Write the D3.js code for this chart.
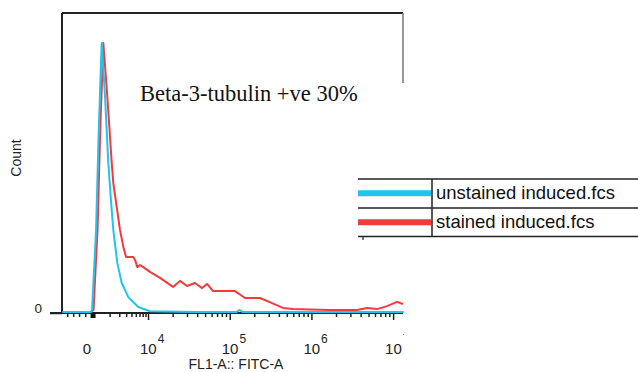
<!DOCTYPE html>
<html>
<head>
<meta charset="utf-8">
<script src="https://cdn.jsdelivr.net/npm/d3@7"></script>
<style>
  body { margin: 0; background: #fff; }
  svg { display: block; }
</style>
</head>
<body>
<svg width="638" height="372"></svg>
<script>
// x in display decades (4 = 10^4 ...), y = count (% of max)
var blueX = [2.95, 3.30, 3.315, 3.364, 3.397, 3.433, 3.474, 3.514, 3.543, 3.575, 3.624, 3.678, 3.759, 3.881, 4.024, 4.6, 5.08, 5.12, 5.16, 5.6, 6.5, 7.13];
var blueY = [0.3, 0.3, 1, 27.7, 61, 90, 72, 50, 38.7, 27.7, 16.7, 10, 5.3, 2, 0.6, 0.3, 0.3, 1, 0.3, 0.3, 0.3, 0.3];

var redX = [3.30, 3.333, 3.382, 3.415, 3.453, 3.502, 3.556, 3.575, 3.617, 3.657, 3.698, 3.731, 3.780, 3.820, 3.841, 3.869, 3.902, 3.942, 4.024, 4.147, 4.306, 4.392, 4.477, 4.575, 4.661, 4.722, 4.796, 5.065, 5.187, 5.371, 5.518, 5.652, 5.775, 6.203, 6.558, 6.681, 6.803, 6.925, 7.048, 7.121];
var redY = [0.3, 1, 27.7, 61, 90, 72, 50, 43.3, 35.3, 27.7, 22, 18.7, 18.7, 18.7, 17.7, 15.3, 16, 15.3, 13.7, 11.7, 8.7, 10.7, 9, 10, 8.3, 9.7, 7.3, 7.3, 5, 5, 3.3, 1.7, 1.3, 1, 1, 1.7, 1.3, 2.3, 3.7, 3];

var seriesNames = ["unstained induced.fcs", "stained induced.fcs"];
var seriesColors = ["#22c3ef", "#f23c3c"];
var majorTicks = [4, 5, 6, 7];
var majorExp = ["4", "5", "6", "7"];
var zeroPos = 3.327;
var annotation = "Beta-3-tubulin +ve 30%";

var svg = d3.select("svg");
var pLeft = 62, pRight = 403, pTop = 13, pBottom = 313;

var x = d3.scaleLinear().domain([2.947, 7.121]).range([pLeft, pRight]);
var y = d3.scaleLinear().domain([0, 100]).range([pBottom, pTop]);

// minor ticks
var minorTicks = [];
[4, 5, 6].forEach(function(d) {
  d3.range(2, 10).forEach(function(m) { minorTicks.push(d + Math.log10(m)); });
});
d3.range(2, 10).forEach(function(m) { minorTicks.push(zeroPos + (4 - zeroPos) * Math.log10(m)); });
[0.17, 0.36, 0.55, 0.75].forEach(function(f) { minorTicks.push(x.domain()[0] + (zeroPos - x.domain()[0]) * f); });

svg.append("defs").append("clipPath").attr("id", "clip")
  .append("rect").attr("x", pLeft).attr("y", pTop - 2).attr("width", pRight - pLeft + 1).attr("height", pBottom - pTop + 2);

// frame
svg.append("line").attr("x1", pLeft).attr("x2", pRight).attr("y1", pTop).attr("y2", pTop)
  .attr("stroke", "#222").attr("stroke-width", 2);
svg.append("line").attr("x1", pRight).attr("x2", pRight).attr("y1", pTop).attr("y2", 83)
  .attr("stroke", "#777").attr("stroke-width", 1.5);
svg.append("line").attr("x1", pLeft).attr("x2", pLeft).attr("y1", pTop).attr("y2", pBottom)
  .attr("stroke", "#222").attr("stroke-width", 2);

// x axis
var gxMinor = svg.append("g").attr("transform", "translate(0," + pBottom + ")")
  .call(d3.axisBottom(x).tickValues(minorTicks).tickSize(4).tickFormat(""));
var gxMajor = svg.append("g").attr("transform", "translate(0," + pBottom + ")")
  .call(d3.axisBottom(x).tickValues(majorTicks).tickSize(7).tickFormat(""));
svg.selectAll(".domain").remove();
[gxMinor, gxMajor].forEach(function(g) {
  g.selectAll(".tick line").attr("stroke", "#222").attr("stroke-width", 1.5);
});
gxMajor.append("line").attr("x1", 50).attr("x2", pRight).attr("stroke", "#222").attr("stroke-width", 2);
gxMajor.append("rect").attr("x", x(zeroPos) - 2.5).attr("y", 0).attr("width", 5).attr("height", 5).attr("fill", "#111");

var labels = svg.append("g").attr("font-family", "Liberation Sans, Arial, sans-serif").attr("fill", "#222");
labels.append("text").attr("x", x(zeroPos) - 6).attr("y", 354).attr("text-anchor", "middle")
  .attr("font-size", 15).text("0");
majorTicks.forEach(function(d, i) {
  var t = labels.append("text").attr("x", x(d) - 8).attr("y", 354).attr("font-size", 15);
  t.append("tspan").text("10");
  t.append("tspan").attr("dy", -11).attr("dx", 1).attr("font-size", 12).text(majorExp[i]);
});
labels.append("text").attr("x", 236).attr("y", 369).attr("text-anchor", "middle")
  .attr("font-size", 14).text("FL1-A:: FITC-A");

// y axis
var gy = svg.append("g").attr("transform", "translate(" + pLeft + ",0)");
gy.call(d3.axisLeft(y).tickValues([0]).tickSize(12).tickPadding(8).tickFormat(d3.format("d")));
gy.selectAll(".domain").remove();
gy.selectAll(".tick line").attr("stroke", "#222").attr("stroke-width", 1.5);
gy.selectAll(".tick text").attr("font-family", "Liberation Sans, Arial, sans-serif")
  .attr("font-size", 13.5).attr("fill", "#222").attr("dy", "-0.05em");
labels.append("text").attr("transform", "translate(21,158) rotate(-90)").attr("text-anchor", "middle")
  .attr("font-size", 14).text("Count");

// histograms
var line = d3.line().x(function(d) { return x(d[0]); }).y(function(d) { return y(d[1]); });
var curves = svg.append("g").attr("clip-path", "url(#clip)");
[[redX, redY, 1], [blueX, blueY, 0]].forEach(function(s) {
  curves.append("path")
    .datum(d3.zip(s[0], s[1]))
    .attr("d", line)
    .attr("fill", "none")
    .attr("stroke", seriesColors[s[2]])
    .attr("stroke-width", 2)
    .attr("stroke-linejoin", "round");
});

// white cover on the right (pasted panel)
svg.append("rect").attr("x", pRight + 1).attr("y", 83).attr("width", 638 - pRight).attr("height", 372 - 83)
  .attr("fill", "#fff");

// annotation
svg.append("text").attr("x", 140).attr("y", 101)
  .attr("font-family", "Liberation Serif, Times New Roman, serif")
  .attr("font-size", 22.5).attr("fill", "#111").text(annotation);

// legend table
var leg = svg.append("g");
var rowTop = [179, 208], rowH = 28.5;
leg.append("rect").attr("x", 358).attr("y", 179).attr("width", 280).attr("height", 58).attr("fill", "#fff");
[179, 208, 236.5].forEach(function(yy) {
  leg.append("line").attr("x1", 358).attr("x2", 638).attr("y1", yy).attr("y2", yy)
    .attr("stroke", "#222").attr("stroke-width", 1.5);
});
leg.append("line").attr("x1", 432).attr("x2", 432).attr("y1", 179).attr("y2", 236.5)
  .attr("stroke", "#222").attr("stroke-width", 1.5);
leg.append("line").attr("x1", 363).attr("x2", 363).attr("y1", 236.5).attr("y2", 240)
  .attr("stroke", "#222").attr("stroke-width", 1.2);
seriesNames.forEach(function(name, i) {
  leg.append("rect").attr("x", 358).attr("y", rowTop[i] + rowH / 2 - 3).attr("width", 73).attr("height", 6)
    .attr("fill", seriesColors[i]);
  leg.append("text").attr("x", 436).attr("y", rowTop[i] + 20)
    .attr("font-family", "Liberation Sans, Arial, sans-serif").attr("font-size", 18.5)
    .attr("fill", "#111").text(name);
});
</script>
</body>
</html>
